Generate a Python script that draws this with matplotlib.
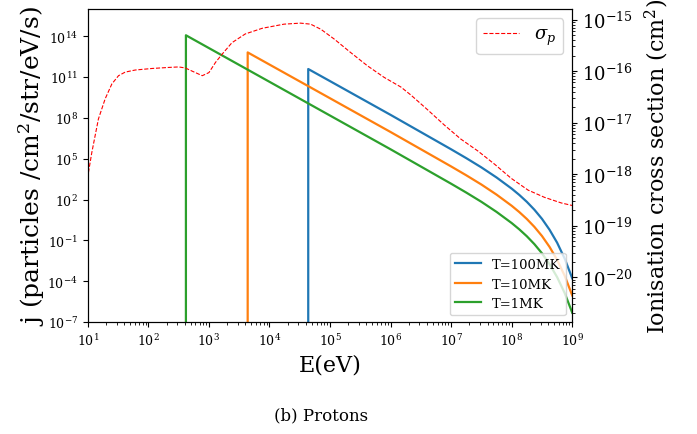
import numpy as np
import matplotlib
matplotlib.use("Agg")
import matplotlib.pyplot as plt
from matplotlib.ticker import NullLocator

plt.rcParams['font.family'] = 'DejaVu Serif'
plt.rcParams['mathtext.fontset'] = 'dejavuserif'

# proton spectra as log10(E / eV) and log10(j)
logE_100MK = [4.64, 4.64, 5, 6, 7, 7.25, 7.5, 7.75, 8, 8.125, 8.25, 8.375, 8.5, 8.625, 8.75, 8.875, 9]
logj_100MK = [-7, 11.59, 10.70, 8.22, 5.69, 5.04, 4.36, 3.62, 2.80, 2.34, 1.83, 1.25, 0.58, -0.22,
              -1.17, -2.34, -3.79]

logE_10MK = [3.64, 3.64, 5, 6, 7, 7.25, 7.5, 7.75, 8, 8.125, 8.25, 8.375, 8.5, 8.625, 8.75, 8.875, 9]
logj_10MK = [-7, 12.81, 9.44, 6.96, 4.43, 3.78, 3.10, 2.36, 1.54, 1.08, 0.57, -0.01, -0.68, -1.48,
             -2.43, -3.60, -5.05]

logE_1MK = [2.62, 2.62, 4, 5, 6, 7, 7.25, 7.5, 7.75, 8, 8.125, 8.25, 8.375, 8.5, 8.625, 8.75, 8.875, 9]
logj_1MK = [-7, 14.07, 10.65, 8.17, 5.69, 3.16, 2.51, 1.83, 1.09, 0.27, -0.19, -0.70, -1.28, -1.95,
            -2.75, -3.70, -4.87, -6.32]

# proton ionisation cross section, log10(E / eV) and log10(sigma / cm^2)
logE_sig = [1.01, 1.066, 1.175, 1.286, 1.397, 1.507, 1.618, 1.783, 2.06, 2.334, 2.50, 2.61,
            2.72, 2.89, 3.00, 3.11, 3.22, 3.38, 3.60, 3.88, 4.24, 4.51, 4.68, 4.85, 5.07,
            5.34, 5.62, 5.89, 6.17, 6.34, 6.61, 6.89, 7.16, 7.44, 7.72, 7.99, 8.27, 8.54,
            8.82, 9.04]
logsig = [-17.97, -17.58, -16.93, -16.54, -16.25, -16.09, -16.02, -15.98, -15.95, -15.93,
          -15.92, -15.94, -16.00, -16.09, -16.03, -15.83, -15.67, -15.45, -15.28, -15.17,
          -15.09, -15.07, -15.09, -15.19, -15.38, -15.64, -15.90, -16.12, -16.31, -16.47,
          -16.75, -17.05, -17.32, -17.55, -17.81, -18.08, -18.31, -18.45, -18.56, -18.62]

series = [("T=100MK", logE_100MK, logj_100MK),
          ("T=10MK", logE_10MK, logj_10MK),
          ("T=1MK", logE_1MK, logj_1MK)]

fig = plt.figure(figsize=(6.97, 4.35), dpi=100)
ax = fig.add_axes([0.126, 0.2575, 0.695, 0.7195])
ax2 = ax.twinx()

for name, le, lj in series:
    ax.plot(10 ** np.array(le), 10 ** np.array(lj), lw=1.6, label=name)

ax2.plot(10 ** np.array(logE_sig), 10 ** np.array(logsig), 'r--', lw=0.8, label=r'$\sigma_p$')

ax.set_xscale('log')
ax.set_yscale('log')
ax2.set_yscale('log')
ax.set_xlim(1e1, 1e9)
ax.set_ylim(1e-7, 1e16)
ax2.set_ylim(1.35e-21, 1.6e-15)
ax.set_yticks([1e-7, 1e-4, 1e-1, 1e2, 1e5, 1e8, 1e11, 1e14])
ax.yaxis.set_minor_locator(NullLocator())

ax.tick_params(axis='both', labelsize=9)
ax2.tick_params(axis='y', labelsize=13)

ax.set_xlabel('E(eV)', fontsize=16)
ax.set_ylabel(r'j (particles /cm$^2$/str/eV/s)', fontsize=18)
ax2.set_ylabel(r'Ionisation cross section (cm$^2$)', fontsize=16)
ax.xaxis.set_label_coords(0.5, -0.1)
ax.yaxis.set_label_coords(-0.085, 0.5)
ax2.yaxis.set_label_coords(1.145, 0.5)

ax.legend(loc='lower right', fontsize=9.5)
ax2.legend(loc='upper right', fontsize=13)

fig.text(0.46, 0.045, '(b) Protons', ha='center', va='center', fontsize=12)

fig.savefig('out.png', dpi=100)
